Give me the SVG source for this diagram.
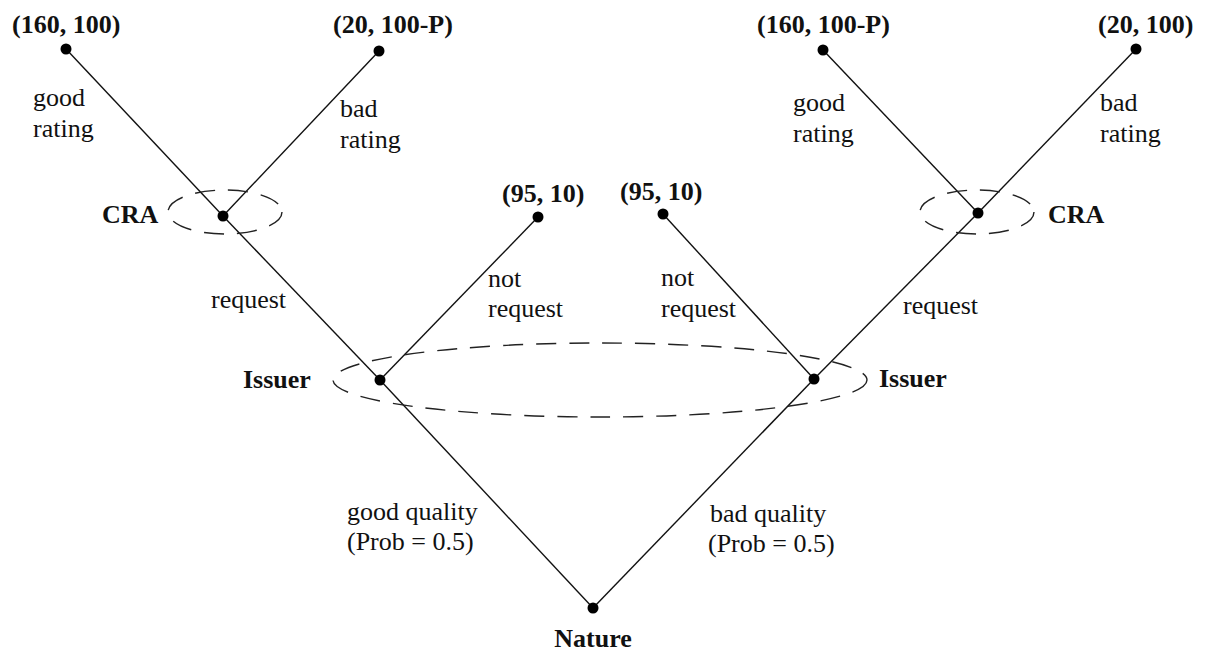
<svg xmlns="http://www.w3.org/2000/svg" width="1207" height="653" viewBox="0 0 1207 653">
  <style>
    text { font-family: "Liberation Serif", "Times New Roman", serif; font-size: 26px; fill: #111; }
    .b { font-weight: bold; }
    .edge { stroke: #111; stroke-width: 1.4; fill: none; }
    .info { stroke: #222; stroke-width: 1.4; fill: none; stroke-dasharray: 20 13; }
    .dot { fill: #000; }
  </style>
  <rect width="1207" height="653" fill="#fff"/>
  <g id="connectors">
    <line class="edge" x1="66" y1="49" x2="223" y2="216"/>
    <line class="edge" x1="379" y1="51" x2="223" y2="216"/>
    <line class="edge" x1="223" y1="216" x2="380" y2="380"/>
    <line class="edge" x1="538" y1="217" x2="380" y2="380"/>
    <line class="edge" x1="380" y1="380" x2="593" y2="608"/>
    <line class="edge" x1="823" y1="50" x2="978" y2="213"/>
    <line class="edge" x1="1136" y1="49" x2="978" y2="213"/>
    <line class="edge" x1="978" y1="213" x2="814" y2="379"/>
    <line class="edge" x1="663" y1="214" x2="814" y2="379"/>
    <line class="edge" x1="814" y1="379" x2="593" y2="608"/>
  </g>
  <g id="edge-labels">
    <text x="33" y="106">good</text>
    <text x="33" y="137">rating</text>
    <text x="340" y="117">bad</text>
    <text x="340" y="148">rating</text>
    <text x="793" y="111">good</text>
    <text x="793" y="142">rating</text>
    <text x="1100" y="111">bad</text>
    <text x="1100" y="142">rating</text>
    <text x="211" y="308">request</text>
    <text x="488" y="287">not</text>
    <text x="488" y="317">request</text>
    <text x="661" y="286">not</text>
    <text x="661" y="317">request</text>
    <text x="903" y="314">request</text>
    <text x="347" y="520">good quality</text>
    <text x="347" y="550">(Prob = 0.5)</text>
    <text x="710" y="522">bad quality</text>
    <text x="708" y="552">(Prob = 0.5)</text>
  </g>
  <g id="info-sets">
    <ellipse class="info" cx="225" cy="212" rx="57" ry="22"/>
    <ellipse class="info" cx="977" cy="212" rx="57" ry="22"/>
    <ellipse class="info" cx="600" cy="380" rx="267" ry="37"/>
  </g>
  <g id="nature">
    <circle class="dot" cx="593" cy="608" r="5.5"/>
    <text class="b" x="593" y="647" text-anchor="middle">Nature</text>
  </g>
  <g id="issuer-left">
    <circle class="dot" cx="380" cy="380" r="5.5"/>
    <text class="b" x="243" y="388">Issuer</text>
  </g>
  <g id="issuer-right">
    <circle class="dot" cx="814" cy="379" r="5.5"/>
    <text class="b" x="879" y="387">Issuer</text>
  </g>
  <g id="cra-left">
    <circle class="dot" cx="223" cy="216" r="5.5"/>
    <text class="b" x="102" y="223">CRA</text>
  </g>
  <g id="cra-right">
    <circle class="dot" cx="978" cy="213" r="5.5"/>
    <text class="b" x="1048" y="223">CRA</text>
  </g>
  <g id="payoff-1">
    <circle class="dot" cx="66" cy="49" r="5.5"/>
    <text class="b" x="12" y="33">(160, 100)</text>
  </g>
  <g id="payoff-2">
    <circle class="dot" cx="379" cy="51" r="5.5"/>
    <text class="b" x="333" y="33">(20, 100-P)</text>
  </g>
  <g id="payoff-3">
    <circle class="dot" cx="538" cy="217" r="5.5"/>
    <text class="b" x="502" y="202">(95, 10)</text>
  </g>
  <g id="payoff-4">
    <circle class="dot" cx="663" cy="214" r="5.5"/>
    <text class="b" x="620" y="200">(95, 10)</text>
  </g>
  <g id="payoff-5">
    <circle class="dot" cx="823" cy="50" r="5.5"/>
    <text class="b" x="757" y="33">(160, 100-P)</text>
  </g>
  <g id="payoff-6">
    <circle class="dot" cx="1136" cy="49" r="5.5"/>
    <text class="b" x="1098" y="33">(20, 100)</text>
  </g>
</svg>
